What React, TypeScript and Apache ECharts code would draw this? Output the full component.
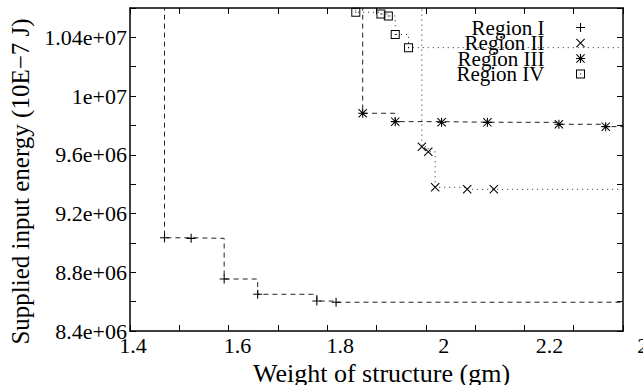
import React, { useEffect, useRef } from "react";
import * as echarts from "echarts";

// ---- data ----
const regionIX = [1.47, 1.524, 1.591, 1.659, 1.779, 1.818];
const regionIY = [9.035e6, 9.031e6, 8.754e6, 8.65e6, 8.604e6, 8.596e6];
const regionIIX = [1.992, 2.005, 2.019, 2.084, 2.138];
const regionIIY = [9.655e6, 9.621e6, 9.379e6, 9.365e6, 9.365e6];
const regionIIIX = [1.872, 1.938, 2.032, 2.125, 2.27, 2.365];
const regionIIIY = [9.883e6, 9.826e6, 9.822e6, 9.821e6, 9.808e6, 9.792e6];
const regionIVX = [1.858, 1.909, 1.924, 1.938, 1.965];
const regionIVY = [1.0571e7, 1.0559e7, 1.0546e7, 1.042e7, 1.033e7];

// step lines enter from above the plot and leave past its right edge
const stepAboveY = 1.1e7;
const stepBeyondX = 2.5;

const xTickValues = [1.4, 1.6, 1.8, 2.0, 2.2, 2.4];
const xTickLabels = ["1.4", "1.6", "1.8", "2", "2.2", "2.4"];
const yTickValues = [8.4e6, 8.8e6, 9.2e6, 9.6e6, 1.0e7, 1.04e7];
const yTickLabels = ["8.4e+06", "8.8e+06", "9.2e+06", "9.6e+06", "1e+07", "1.04e+07"];

const seriesNames = ["Region I", "Region II", "Region III", "Region IV"];

// ---- styles ----
const FONT = "Liberation Serif";
const xLabelShift = [3, 9, 13, 18, 25, 28];

const PLUS = "path://M4.4,0H5.6V4.4H10V5.6H5.6V10H4.4V5.6H0V4.4H4.4Z";
const CROSS = "path://M0,0.8L0.8,0L10,9.2L9.2,10ZM10,0.8L0.8,10L0,9.2L9.2,0Z";
const STAR =
  "path://M4.4,0H5.6V4.4H10V5.6H5.6V10H4.4V5.6H0V4.4H4.4ZM0,0.8L0.8,0L10,9.2L9.2,10ZM10,0.8L0.8,10L0,9.2L9.2,0Z";
const BOX = "path://M0,0H10V10H0ZM1.1,1.1V8.9H8.9V1.1ZM4.4,4.4H5.6V5.6H4.4Z";

const DASHED = [5, 4];
const DOTTED = [1, 4];

function pairs(xs: number[], ys: number[]) {
  return xs.map((x, i) => [x, ys[i]]);
}
function stepData(xs: number[], ys: number[]) {
  return [[xs[0] - 0.05, stepAboveY], ...pairs(xs, ys), [stepBeyondX, ys[ys.length - 1]]];
}

export default function App() {
  const ref = useRef<HTMLDivElement>(null);
  useEffect(() => {
    if (!ref.current) return;
    const chart = echarts.init(ref.current, undefined, { renderer: "svg" });

    const groups = [
      { name: seriesNames[0], xs: regionIX, ys: regionIY, sym: PLUS, dash: DASHED },
      { name: seriesNames[1], xs: regionIIX, ys: regionIIY, sym: CROSS, dash: DOTTED },
      { name: seriesNames[2], xs: regionIIIX, ys: regionIIIY, sym: STAR, dash: DASHED },
      { name: seriesNames[3], xs: regionIVX, ys: regionIVY, sym: BOX, dash: DOTTED },
    ];

    const series: any[] = [];
    groups.forEach((g) => {
      series.push({
        type: "line",
        name: g.name + " steps",
        data: stepData(g.xs, g.ys),
        step: "end",
        symbol: "none",
        clip: true,
        silent: true,
        lineStyle: { color: "#222", width: 1, type: g.dash },
        z: 2,
      });
      series.push({
        type: "scatter",
        name: g.name,
        data: pairs(g.xs, g.ys),
        symbol: g.sym,
        symbolSize: 9,
        itemStyle: { color: "#000", opacity: 1 },
        silent: true,
        z: 3,
      });
    });

    const axisLine = { show: true, onZero: false, lineStyle: { color: "#000", width: 1.5 } };
    const axisTick = { show: true, inside: true, length: 6, lineStyle: { color: "#000", width: 1 } };

    const rich: any = {};
    xLabelShift.forEach((s, i) => {
      rich["s" + i] = { padding: [0, 0, 0, 2 * s], fontSize: 22, fontFamily: FONT, color: "#000" };
    });

    const xMin = 1.4, xMax = 2.4, xStep = 0.1;
    const yMin = 8.4e6, yMax = 1.06e7, yStep = 2e5;

    chart.setOption({
      animation: false,
      backgroundColor: "#fff",
      textStyle: { fontFamily: FONT },
      grid: { left: 130, right: 20, top: 8, bottom: 54, containLabel: false, outerBoundsMode: "none" },
      legend: {
        data: seriesNames,
        orient: "vertical",
        align: "right",
        right: 58,
        top: 17,
        padding: 0,
        itemGap: -5.5,
        itemWidth: 62,
        itemHeight: 9,
        selectedMode: false,
        textStyle: { fontSize: 21, fontFamily: FONT, color: "#000", lineHeight: 16 },
      },
      xAxis: [
        {
          type: "value",
          position: "bottom",
          min: xMin,
          max: xMax,
          interval: xStep,
          axisLine,
          axisTick,
          splitLine: { show: false },
          axisLabel: {
            margin: 3,
            color: "#000",
            fontSize: 22,
            fontFamily: FONT,
            rich,
            formatter: (v: number) => {
              const i = xTickValues.findIndex((t) => Math.abs(t - v) < 1e-6);
              return i < 0 ? "" : `{s${i}|${xTickLabels[i]}}`;
            },
          },
          name: "Weight of structure (gm)",
          nameLocation: "middle",
          nameGap: 16,
          nameTextStyle: { fontSize: 26, fontFamily: FONT, color: "#000", padding: [0, 0, 0, 10] },
        },
        {
          type: "value",
          position: "top",
          min: xMin,
          max: xMax,
          interval: xStep,
          axisLine,
          axisTick,
          splitLine: { show: false },
          axisLabel: { show: false },
        },
      ],
      yAxis: [
        {
          type: "value",
          position: "left",
          min: yMin,
          max: yMax,
          interval: yStep,
          axisLine,
          axisTick,
          splitLine: { show: false },
          axisLabel: {
            margin: 3,
            color: "#000",
            fontSize: 22,
            fontFamily: FONT,
            padding: [3, 0, 0, 0],
            formatter: (v: number) => {
              const i = yTickValues.findIndex((t) => Math.abs(t - v) < 1);
              return i < 0 ? "" : yTickLabels[i];
            },
          },
          name: "Supplied input energy (10E\u22127 J)",
          nameLocation: "middle",
          nameGap: 92,
          nameTextStyle: { fontSize: 25, fontFamily: FONT, color: "#000", padding: [0, 24, 0, 0] },
        },
        {
          type: "value",
          position: "right",
          min: yMin,
          max: yMax,
          interval: yStep,
          axisLine,
          axisTick,
          splitLine: { show: false },
          axisLabel: { show: false },
        },
      ],
      series,
    });
    return () => chart.dispose();
  }, []);
  return (
    <div
      ref={ref}
      style={{ position: "fixed", left: 0, top: 0, width: 643, height: 385, background: "#fff" }}
    />
  );
}
